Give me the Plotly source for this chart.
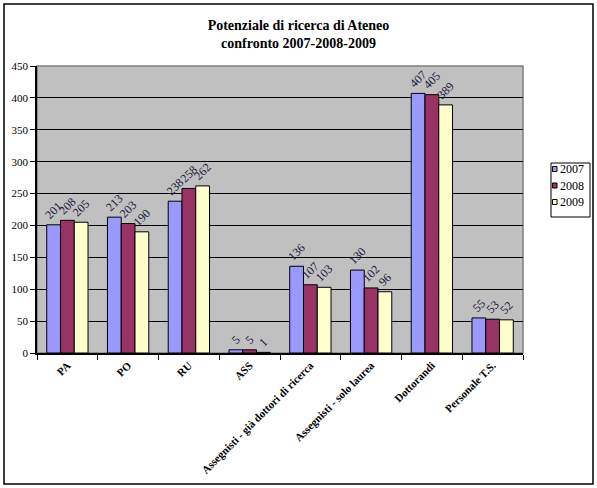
import plotly.graph_objects as go

categories = ["PA", "PO", "RU", "ASS", "Assegnisti - già dottori di ricerca",
              "Assegnisti - solo laurea", "Dottorandi", "Personale T.S."]
v2007 = [201, 213, 238, 5, 136, 130, 407, 55]
v2008 = [208, 203, 258, 5, 107, 102, 405, 53]
v2009 = [205, 190, 262, 1, 103, 96, 389, 52]
series_names = ["2007", "2008", "2009"]
colors = ["#9999FF", "#993366", "#FFFFCC"]
y_ticks = [0, 50, 100, 150, 200, 250, 300, 350, 400, 450]

W, H = 597, 488
ml, mr, mt, mb = 37, 74, 66, 135
pw, ph = W - ml - mr, H - mt - mb


def px(x):
    return (x - ml) / pw


def py(y):
    return 1 - (y - mt) / ph


fig = go.Figure()
for name, vals, c in zip(series_names, [v2007, v2008, v2009], colors):
    fig.add_trace(go.Bar(
        x=categories, y=vals, name=name,
        marker=dict(color=c, line=dict(color="black", width=1)),
        text=[str(v) for v in vals], textposition="outside", textangle=-45,
        textfont=dict(family="Liberation Serif", size=12, color="#1a1a40"),
        cliponaxis=False, showlegend=False,
    ))

fig.update_layout(
    width=W, height=H,
    margin=dict(l=ml, r=mr, t=mt, b=mb, autoexpand=False),
    paper_bgcolor="white", plot_bgcolor="#C0C0C0",
    barmode="group", bargap=0.32, bargroupgap=0,
    title=dict(text="<b>Potenziale di ricerca di Ateneo<br>confronto 2007-2008-2009</b>",
               x=0.5, xanchor="center", y=1 - 30 / H, yanchor="top",
               font=dict(family="Liberation Serif", size=14, color="black")),
    font=dict(family="Liberation Serif", size=11, color="black"),
    showlegend=False,
    uniformtext=dict(mode="show", minsize=12),
)

fig.update_xaxes(
    type="category", tickangle=-45, tickson="boundaries",
    ticks="outside", ticklen=5, tickcolor="black",
    showline=True, linecolor="black", linewidth=1.5,
    tickfont=dict(family="Liberation Serif", size=11, color="black"),
    ticktext=["<b>%s</b>" % c for c in categories], tickvals=categories,
    showgrid=False,
)
fig.update_yaxes(
    range=[0, 450], tickvals=y_ticks, ticks="outside", ticklen=5, tickcolor="black",
    showline=True, linecolor="black", linewidth=1.5,
    showgrid=True, gridcolor="black", gridwidth=1.2,
    tickfont=dict(family="Liberation Serif", size=11, color="black"),
    zeroline=False,
)

# plot area border (top/right gray)
fig.add_shape(type="rect", xref="paper", yref="paper", x0=0, y0=0, x1=1, y1=1,
              line=dict(color="#808080", width=1.5), layer="below")
# outer chart frame
fig.add_shape(type="rect", xref="paper", yref="paper",
              x0=px(4), x1=px(593), y0=py(484), y1=py(4),
              line=dict(color="black", width=1.5))

# legend (drawn manually to match the compact box)
fig.add_shape(type="rect", xref="paper", yref="paper",
              x0=px(551), x1=px(590), y0=py(217), y1=py(163),
              line=dict(color="black", width=1), fillcolor="white")
for i, (name, c) in enumerate(zip(series_names, colors)):
    yc = 169 + i * 16.5
    fig.add_shape(type="rect", xref="paper", yref="paper",
                  x0=px(552.5), x1=px(557), y0=py(yc + 2.5), y1=py(yc - 2.5),
                  line=dict(color="black", width=1), fillcolor=c)
    fig.add_annotation(x=px(557.5), y=py(yc), xref="paper", yref="paper",
                       text=name, showarrow=False, xanchor="left", yanchor="middle",
                       font=dict(family="Liberation Serif", size=12, color="black"))

fig.write_html("out.html")
